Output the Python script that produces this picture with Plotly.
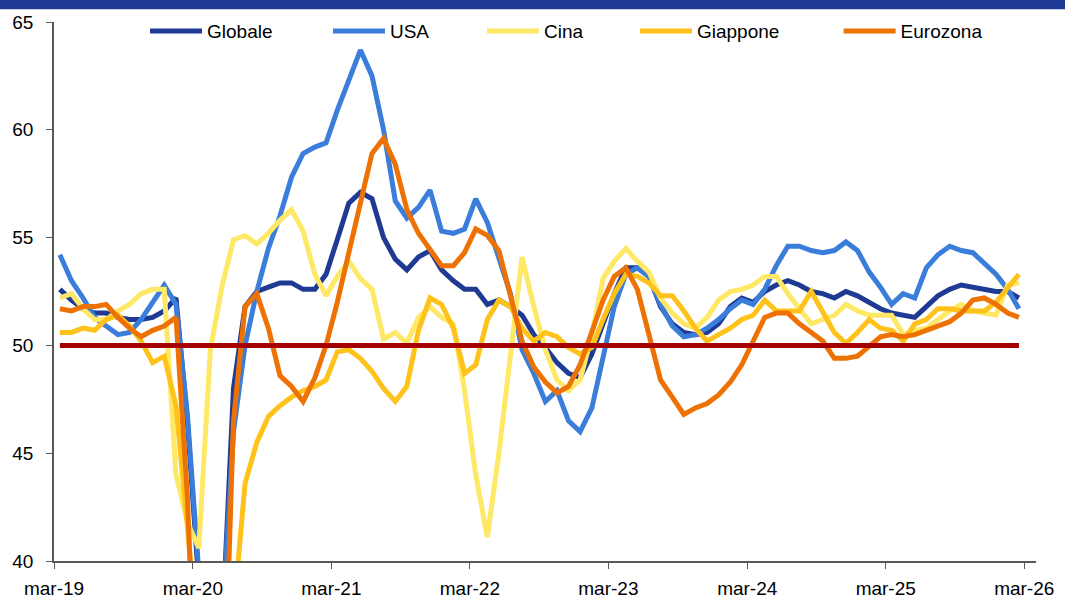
import pandas as pd
import plotly.graph_objects as go

# Monthly observations, mar-19 .. feb-26
months = pd.date_range("2019-03-01", periods=84, freq="MS").strftime("%Y-%m-%d").tolist()

globale = [52.6, 52.1, 51.7, 51.5, 51.5, 51.3, 51.2, 51.2, 51.3, 51.6,
           52.2, 46.5, 39.0, 27.0, 36.5, 48.0, 51.8, 52.5, 52.7, 52.9,
           52.9, 52.6, 52.6, 53.3, 54.9, 56.6, 57.1, 56.8, 55.0, 54.0,
           53.5, 54.1, 54.4, 53.5, 53.0, 52.6, 52.6, 51.9, 52.1, 51.8,
           51.4, 50.5, 49.9, 49.2, 48.7, 48.5, 49.6, 51.0, 52.4, 53.6,
           53.6, 53.2, 51.8, 51.0, 50.6, 50.5, 50.6, 51.0, 51.8, 52.2,
           52.0, 52.5, 52.8, 53.0, 52.8, 52.5, 52.4, 52.2, 52.5, 52.3,
           52.0, 51.7, 51.5, 51.4, 51.3, 51.8, 52.3, 52.6, 52.8, 52.7,
           52.6, 52.5, 52.5, 52.2]

usa = [54.2, 53.0, 52.2, 51.3, 50.9, 50.5, 50.6, 51.2, 52.0, 52.8,
       51.9, 46.8, 39.5, 27.0, 37.0, 46.0, 50.0, 52.5, 54.5, 56.0,
       57.8, 58.9, 59.2, 59.4, 60.9, 62.3, 63.7, 62.5, 60.0, 56.7,
       55.9, 56.4, 57.2, 55.3, 55.2, 55.4, 56.8, 55.7, 54.0, 52.4,
       49.8, 48.7, 47.4, 47.9, 46.5, 46.0, 47.1, 49.4, 51.8, 53.3,
       53.6, 53.2, 51.9, 50.9, 50.4, 50.5, 50.8, 51.2, 51.7, 52.1,
       51.9, 52.6, 53.7, 54.6, 54.6, 54.4, 54.3, 54.4, 54.8, 54.4,
       53.4, 52.7, 51.9, 52.4, 52.2, 53.6, 54.2, 54.6, 54.4, 54.3,
       53.8, 53.3, 52.6, 51.7]

cina = [52.2, 52.4, 51.7, 51.2, 51.2, 51.6, 51.9, 52.4, 52.6, 52.6,
        44.0, 41.8, 40.6, 49.8, 52.7, 54.9, 55.1, 54.7, 55.2, 55.8,
        56.3, 55.3, 53.3, 52.3, 53.2, 53.9, 53.1, 52.6, 50.3, 50.6,
        50.1, 51.3, 51.8, 51.3, 51.0, 47.9, 44.0, 41.1, 45.0, 49.6,
        54.1, 51.8, 49.8, 48.4, 47.9, 48.4, 50.5, 53.1, 53.9, 54.5,
        53.9, 53.4, 52.2, 51.5, 51.0, 50.8, 51.3, 52.1, 52.5, 52.6,
        52.8, 53.2, 53.2, 52.4, 51.7, 51.0, 51.2, 51.4, 51.9, 51.6,
        51.4, 51.4, 51.4, 50.5, 50.7, 50.8, 51.2, 51.6, 51.9, 51.6,
        51.5, 51.4, 52.8, 52.9]

giappone = [50.6, 50.6, 50.8, 50.7, 51.2, 51.4, 50.9, 50.2, 49.2, 49.5,
            47.2, 42.0, 36.0, 25.8, 27.8, 37.5, 43.6, 45.5, 46.7, 47.2,
            47.6, 47.9, 48.1, 48.4, 49.7, 49.8, 49.4, 48.8, 48.0, 47.4,
            48.1, 50.7, 52.2, 51.9, 50.8, 48.7, 49.1, 51.2, 52.1, 51.8,
            50.8, 50.2, 50.6, 50.4, 49.9, 49.6, 49.9, 51.2, 52.4, 53.3,
            53.2, 52.9, 52.3, 52.3, 51.6, 50.8, 50.2, 50.5, 50.8, 51.2,
            51.4, 52.1, 51.6, 51.6, 51.6, 52.5, 51.5, 50.6, 50.1, 50.6,
            51.2, 50.8, 50.7, 50.2, 51.0, 51.2, 51.7, 51.7, 51.6, 51.6,
            51.6, 52.0, 52.7, 53.3]

eurozona = [51.7, 51.6, 51.8, 51.8, 51.9, 51.3, 50.8, 50.4, 50.7, 50.9,
            51.3, 43.0, 29.7, 13.6, 30.0, 46.5, 51.8, 52.4, 50.8, 48.6,
            48.1, 47.4, 48.5, 50.0, 52.0, 54.2, 56.6, 58.9, 59.6, 58.4,
            56.3, 55.2, 54.4, 53.7, 53.7, 54.3, 55.4, 55.1, 54.4, 52.3,
            50.2, 49.0, 48.3, 47.8, 48.1, 49.1, 50.6, 52.1, 53.2, 53.6,
            52.6, 50.6, 48.4, 47.6, 46.8, 47.1, 47.3, 47.7, 48.3, 49.1,
            50.2, 51.3, 51.5, 51.5, 51.0, 50.6, 50.2, 49.4, 49.4, 49.5,
            50.0, 50.4, 50.5, 50.4, 50.5, 50.7, 50.9, 51.1, 51.5, 52.1,
            52.2, 51.9, 51.5, 51.3]

soglia = [50.0] * len(months)

tick_dates = ["2019-03-01", "2020-03-01", "2021-03-01", "2022-03-01",
              "2023-03-01", "2024-03-01", "2025-03-01", "2026-03-01"]
tick_labels = ["mar-19", "mar-20", "mar-21", "mar-22",
               "mar-23", "mar-24", "mar-25", "mar-26"]

series_names = ["Globale", "USA", "Cina", "Giappone", "Eurozona"]
series_values = [globale, usa, cina, giappone, eurozona]
series_colors = ["#1F3A93", "#3A7DDA", "#FFE866", "#FFC21A", "#EE7203"]
legend_x = [0.0927, 0.279, 0.4358, 0.5916, 0.7990]

font_fam = "Liberation Sans, Arial, sans-serif"

fig = go.Figure()
for k, (name, vals, col) in enumerate(zip(series_names, series_values, series_colors)):
    lg = "legend" if k == 0 else f"legend{k + 1}"
    fig.add_trace(go.Scatter(
        x=months, y=vals, name=name, mode="lines",
        xperiod="M1", xperiodalignment="middle",
        line=dict(color=col, width=5), legend=lg,
    ))
fig.add_trace(go.Scatter(
    x=months, y=soglia, name="50", mode="lines", showlegend=False,
    xperiod="M1", xperiodalignment="middle",
    line=dict(color="#A50000", width=5),
))

legend_common = dict(orientation="h", y=0.983, xanchor="left", yanchor="middle",
                     font=dict(size=19, family=font_fam),
                     bgcolor="rgba(0,0,0,0)", itemwidth=52)
legends = {}
for k, lx in enumerate(legend_x):
    key = "legend" if k == 0 else f"legend{k + 1}"
    legends[key] = dict(legend_common, x=lx)

fig.update_layout(
    width=1065, height=599,
    margin=dict(l=54, r=29, t=22, b=38, autoexpand=False),
    paper_bgcolor="white", plot_bgcolor="white",
    font=dict(family=font_fam, size=19, color="black"),
    showlegend=True,
    xaxis=dict(
        type="date", range=["2019-03-01", "2026-04-01"],
        tickvals=tick_dates, ticktext=tick_labels,
        ticks="outside", ticklen=6, tickcolor="#595959",
        showline=True, linecolor="#595959", linewidth=1.5,
        showgrid=False, zeroline=False,
        tickfont=dict(size=19), ticklabelstandoff=3,
    ),
    yaxis=dict(
        range=[40, 65], tickvals=[40, 45, 50, 55, 60, 65],
        ticks="outside", ticklen=6, tickcolor="#595959",
        showline=True, linecolor="#595959", linewidth=1.5,
        showgrid=False, zeroline=False,
        tickfont=dict(size=19), ticklabelstandoff=9,
    ),
    shapes=[dict(type="rect", xref="paper", yref="paper",
                 x0=-0.06, x1=1.035, y0=1.0235, y1=1.06,
                 fillcolor="#1F3A93", line=dict(width=0), layer="above")],
    **legends,
)

fig.write_html("out.html", config={"displayModeBar": False},
               post_script="document.body.style.margin='0';document.body.style.padding='0';")
